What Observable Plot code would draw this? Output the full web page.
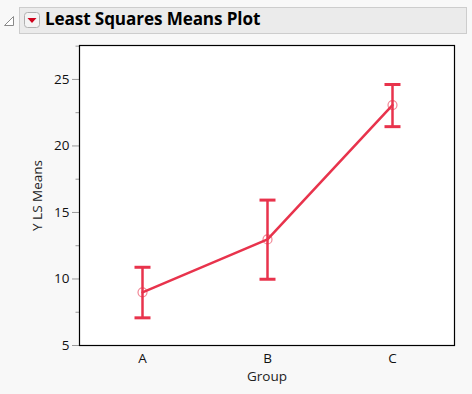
<!DOCTYPE html>
<html>
<head>
<meta charset="utf-8">
<script src="https://cdn.jsdelivr.net/npm/d3@7"></script>
<script src="https://cdn.jsdelivr.net/npm/@observablehq/plot@0.6"></script>
<style>
  html, body { margin: 0; padding: 0; background: #f8f8f8; width: 472px; height: 394px; overflow: hidden; }
  #header { position: relative; height: 40px; }
  #bar { position: absolute; left: 19px; top: 7px; width: 446px; height: 25px; background: #ebebeb; border: 1px solid #cdcdcd; }
  #title { position: absolute; left: 45px; top: 7px; font: bold 17.1px "Open Sans", "Noto Sans", sans-serif; color: #000; white-space: nowrap; letter-spacing: -0.1px; }
  #tri { position: absolute; left: 3px; top: 15px; }
  #btn { position: absolute; left: 24px; top: 12px; }
  #chart svg { display: block; }
</style>
</head>
<body>
<div id="header">
  <div id="bar"></div>
  <svg id="tri" width="12" height="12"><path d="M10.5,1.5 L10.5,10.5 L1.5,10.5 Z" fill="#fff" stroke="#8a8a8a" stroke-width="1"/></svg>
  <svg id="btn" width="17" height="17"><rect x="0.5" y="0.5" width="15" height="15" rx="3" fill="#f4f4f4" stroke="#b0b0b0"/><path d="M3.5,6 L12.5,6 L8,11 Z" fill="#d0021b"/></svg>
  <div id="title">Least Squares Means Plot</div>
</div>
<div id="chart"></div>
<script>
const groups = ["A", "B", "C"];
const means = [9.0, 12.97, 23.07];
const lower = [7.08, 9.98, 21.45];
const upper = [10.88, 15.93, 24.62];
const majorTicks = [5, 10, 15, 20, 25];
const minorTicks = [7.5, 12.5, 17.5, 22.5, 27.5];

const data = groups.map((g, i) => ({group: g, mean: means[i], lo: lower[i], hi: upper[i]}));
const red = "#e8334c";
const capSymbol = {draw(ctx) { ctx.moveTo(-8, 0); ctx.lineTo(8, 0); }};

const chart = Plot.plot({
  width: 472,
  height: 354,
  marginTop: 5,
  marginBottom: 49,
  marginLeft: 79,
  marginRight: 18,
  style: {background: "transparent", fontFamily: "'Open Sans', 'Noto Sans', sans-serif", fontSize: "13.5px", color: "#111"},
  x: {type: "point", domain: groups, padding: 0.5, label: null},
  y: {domain: [5, 27.55], label: null},
  marks: [
    Plot.frame({fill: "white"}),
    Plot.axisY(minorTicks, {tickSize: 3.5, stroke: "#9a9a9a", text: null}),
    Plot.axisY(majorTicks, {tickSize: 7, tickPadding: 3, stroke: "#9a9a9a", fill: "#111", fontSize: 13.5, label: null}),
    Plot.axisX({tickSize: 0, tickPadding: 8, fill: "#111", fontSize: 13.5, label: null}),
    Plot.text(["Y LS Means"], {frameAnchor: "left", dx: -42, rotate: -90, fontSize: 13.5, fill: "#222", textAnchor: "middle"}),
    Plot.text(["Group"], {frameAnchor: "bottom", dy: 35, fontSize: 13.5, fill: "#222"}),
    Plot.ruleX(data, {x: "group", y1: "lo", y2: "hi", stroke: red, strokeWidth: 2.5}),
    Plot.dot(data, {x: "group", y: "lo", symbol: capSymbol, stroke: red, strokeWidth: 3, fill: "none"}),
    Plot.dot(data, {x: "group", y: "hi", symbol: capSymbol, stroke: red, strokeWidth: 3, fill: "none"}),
    Plot.line(data, {x: "group", y: "mean", stroke: red, strokeWidth: 2.5}),
    Plot.dot(data, {x: "group", y: "mean", r: 4.5, stroke: red, strokeOpacity: 0.6, strokeWidth: 1.2, fill: "none"}),
    Plot.frame({stroke: "#000", strokeWidth: 1.2})
  ]
});
document.getElementById("chart").appendChild(chart);
</script>
</body>
</html>
